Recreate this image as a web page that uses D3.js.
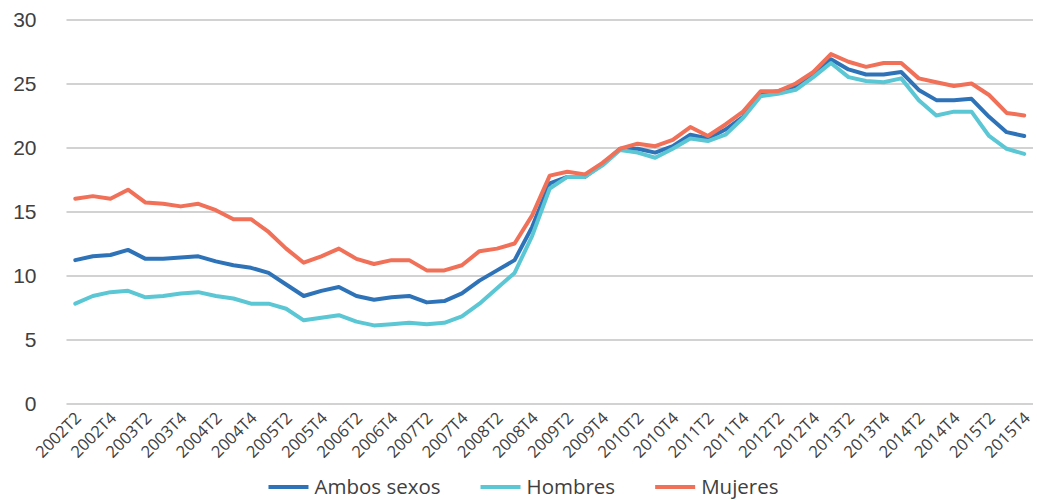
<!DOCTYPE html>
<html>
<head>
<meta charset="utf-8">
<script src="https://cdn.jsdelivr.net/npm/d3@7"></script>
<style>
  html, body { margin: 0; padding: 0; background: #fff; }
  svg { display: block; font-family: "Open Sans", "Noto Sans", sans-serif; }
</style>
</head>
<body>
<svg id="chart" width="1037" height="500"></svg>
<script>
// Quarterly periods, 2002T2 .. 2015T4
const periods = [];
for (let y = 2002; y <= 2015; y++) {
  for (let q = 1; q <= 4; q++) {
    if (y === 2002 && q === 1) continue;
    periods.push(y + "T" + q);
  }
}

const ambosSexos = [
  11.2, 11.5, 11.6, 12.0, 11.3, 11.3, 11.4, 11.5, 11.1, 10.8, 10.6,
  10.2, 9.3, 8.4, 8.8, 9.1, 8.4, 8.1, 8.3, 8.4, 7.9, 8.0,
  8.6, 9.6, 10.4, 11.2, 13.8, 17.2, 17.7, 17.7, 18.7, 19.9,
  19.9, 19.6, 20.1, 21.0, 20.7, 21.4, 22.4, 24.2, 24.4, 24.8, 25.7,
  26.9, 26.1, 25.7, 25.7, 25.9, 24.5, 23.7, 23.7, 23.8, 22.4, 21.2, 20.9
];

const hombres = [
  7.8, 8.4, 8.7, 8.8, 8.3, 8.4, 8.6, 8.7, 8.4, 8.2, 7.8,
  7.8, 7.4, 6.5, 6.7, 6.9, 6.4, 6.1, 6.2, 6.3, 6.2, 6.3,
  6.8, 7.8, 9.0, 10.2, 13.1, 16.8, 17.7, 17.7, 18.6, 19.8,
  19.6, 19.2, 19.9, 20.7, 20.5, 21.0, 22.3, 24.0, 24.2, 24.5, 25.5,
  26.6, 25.5, 25.2, 25.1, 25.4, 23.7, 22.5, 22.8, 22.8, 20.9, 19.9, 19.5
];

const mujeres = [
  16.0, 16.2, 16.0, 16.7, 15.7, 15.6, 15.4, 15.6, 15.1, 14.4, 14.4,
  13.4, 12.1, 11.0, 11.5, 12.1, 11.3, 10.9, 11.2, 11.2, 10.4, 10.4,
  10.8, 11.9, 12.1, 12.5, 14.7, 17.8, 18.1, 17.9, 18.8, 19.9,
  20.3, 20.1, 20.6, 21.6, 20.9, 21.8, 22.8, 24.4, 24.4, 25.0, 25.9,
  27.3, 26.7, 26.3, 26.6, 26.6, 25.4, 25.1, 24.8, 25.0, 24.1, 22.7, 22.5
];

const yTicks = [0, 5, 10, 15, 20, 25, 30];
const xLabels = periods.filter((p, i) => i % 2 === 0);

const series = [
  { name: "Ambos sexos", values: ambosSexos, color: "#2e73b8" },
  { name: "Hombres",     values: hombres,    color: "#5bc7d5" },
  { name: "Mujeres",     values: mujeres,    color: "#f07058" }
];

const svg = d3.select("#chart");
const plot = { left: 66.5, right: 1033, top: 19.5, bottom: 403.5 };

const x = d3.scaleBand()
  .domain(periods)
  .range([plot.left, plot.right]);

const y = d3.scaleLinear()
  .domain([0, 30])
  .range([plot.bottom, plot.top]);

// Horizontal gridlines and value labels
const yAxis = svg.append("g")
  .attr("transform", `translate(${plot.left},0)`)
  .call(d3.axisLeft(y)
    .tickValues(yTicks)
    .tickSize(-(plot.right - plot.left))
    .tickPadding(30)
    .tickFormat(d3.format("d")));
yAxis.select(".domain").remove();
yAxis.selectAll(".tick line")
  .attr("stroke", "#c3c3c3")
  .attr("stroke-width", 1.5);
yAxis.selectAll(".tick text")
  .attr("fill", "#404040")
  .style("font-size", "21px");

// Rotated period labels
const xAxis = svg.append("g");
xAxis.selectAll("text")
  .data(xLabels)
  .join("text")
  .attr("transform", d => `translate(${x(d) + x.bandwidth() / 2 + 7},419) rotate(-45)`)
  .attr("text-anchor", "end")
  .attr("fill", "#404040")
  .style("font-size", "16.5px")
  .text(d => d);

// Series lines
const line = d3.line()
  .x((d, i) => x(periods[i]) + x.bandwidth() / 2)
  .y(d => y(d));

svg.append("g")
  .selectAll("path")
  .data(series)
  .join("path")
  .attr("d", s => line(s.values))
  .attr("fill", "none")
  .attr("stroke", s => s.color)
  .attr("stroke-width", 4)
  .attr("stroke-linejoin", "round")
  .attr("stroke-linecap", "round");

// Legend, centred under the plot
const legend = svg.append("g");
const items = legend.selectAll("g")
  .data(series)
  .join("g");
items.append("line")
  .attr("x1", 0).attr("x2", 40)
  .attr("y1", 0).attr("y2", 0)
  .attr("stroke", s => s.color)
  .attr("stroke-width", 4);
items.append("text")
  .attr("x", 46)
  .attr("y", 7)
  .attr("fill", "#404040")
  .style("font-size", "20.5px")
  .text(s => s.name);

let cursor = 0;
const gap = 40;
items.each(function () {
  const w = 46 + d3.select(this).select("text").node().getComputedTextLength();
  d3.select(this).attr("transform", `translate(${cursor},0)`);
  cursor += w + gap;
});
const total = cursor - gap;
legend.attr("transform", `translate(${523.5 - total / 2},487)`);
</script>
</body>
</html>
